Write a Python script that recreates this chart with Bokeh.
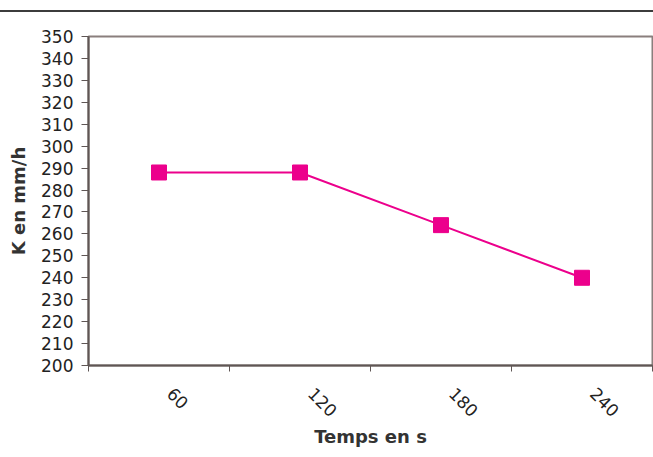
import math
from bokeh.plotting import figure
from bokeh.models import FixedTicker, Range1d, Div
from bokeh.layouts import column
from bokeh.embed import file_html
from bokeh.resources import INLINE

categories = ["60", "120", "180", "240"]
k_values = [288, 288, 264, 240]
y_ticks = list(range(200, 351, 10))

xs = [i + 0.5 for i in range(len(categories))]
label_pos = [x + 0.08 for x in xs]

FONT = "DejaVu Sans"
AXIS_COLOR = "#5f5655"

top_rule = Div(text="", width=653, height=12, margin=(0, 0, 0, 0),
               styles={"border-bottom": "2px solid #3c3c3c", "box-sizing": "border-box"})

p = figure(width=653, height=445, output_backend="svg", toolbar_location=None,
           x_range=Range1d(0, len(categories)), y_range=Range1d(200, 350),
           min_border_left=88, min_border_right=1, min_border_top=24, min_border_bottom=92)
p.background_fill_color = "white"
p.border_fill_color = "white"
p.outline_line_color = "#8a7f7d"
p.outline_line_width = 2
p.xgrid.visible = False
p.ygrid.visible = False

p.line(xs, k_values, line_color="#ec008c", line_width=2)
p.scatter(xs, k_values, marker="square", size=15, fill_color="#ec008c", line_color="#ec008c")

# y axis
p.yaxis.ticker = FixedTicker(ticks=y_ticks)
p.yaxis.axis_line_color = AXIS_COLOR
p.yaxis.axis_line_width = 2
p.yaxis.major_tick_line_color = AXIS_COLOR
p.yaxis.major_tick_out = 7
p.yaxis.major_tick_in = 0
p.yaxis.minor_tick_line_color = None
p.yaxis.major_label_text_font = FONT
p.yaxis.major_label_text_font_size = "17px"
p.yaxis.major_label_text_color = "#222222"
p.yaxis.major_label_standoff = 8
p.yaxis.axis_label = "K en mm/h"
p.yaxis.axis_label_text_font = FONT
p.yaxis.axis_label_text_font_size = "18px"
p.yaxis.axis_label_text_font_style = "bold"
p.yaxis.axis_label_text_color = "#333333"
p.yaxis.axis_label_standoff = 9

# x axis: labels at centres, ticks at category boundaries
p.xaxis.ticker = FixedTicker(ticks=label_pos, minor_ticks=list(range(len(categories) + 1)))
p.xaxis.major_label_overrides = {x: c for x, c in zip(label_pos, categories)}
p.xaxis.major_tick_line_color = None
p.xaxis.major_tick_out = 0
p.xaxis.major_tick_in = 0
p.xaxis.minor_tick_line_color = AXIS_COLOR
p.xaxis.minor_tick_out = 6
p.xaxis.minor_tick_in = 0
p.xaxis.axis_line_color = AXIS_COLOR
p.xaxis.axis_line_width = 2
p.xaxis.major_label_orientation = -math.pi / 4
p.xaxis.major_label_text_font = FONT
p.xaxis.major_label_text_font_size = "17px"
p.xaxis.major_label_text_color = "#222222"
p.xaxis.major_label_standoff = 19
p.xaxis.axis_label = "Temps en s"
p.xaxis.axis_label_text_font = FONT
p.xaxis.axis_label_text_font_size = "18px"
p.xaxis.axis_label_text_font_style = "bold"
p.xaxis.axis_label_text_color = "#333333"
p.xaxis.axis_label_standoff = 0

layout = column(top_rule, p, spacing=0)
open("out.html", "w").write(file_html(layout, INLINE))
